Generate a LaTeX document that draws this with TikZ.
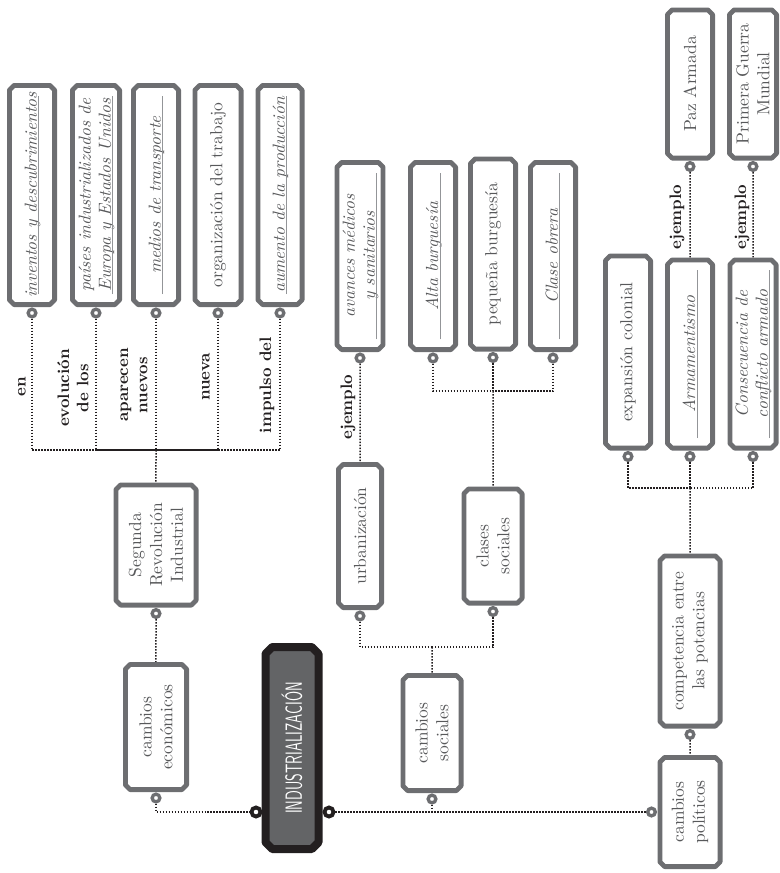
\documentclass[tikz,border=0pt]{standalone}
\usepackage{xcolor}
\usepackage{graphicx}
\usepackage{tikz}
\usetikzlibrary{shapes.misc,calc}

\definecolor{boxgray}{HTML}{6D6E71}
\definecolor{textgray}{HTML}{58595B}
\definecolor{linegray}{HTML}{939598}
\definecolor{rootblack}{HTML}{231F20}
\definecolor{rootgray}{HTML}{636466}

\newcommand{\wline}[1]{\\[-10.5pt]{\color{linegray}\rule{#1}{0.6pt}}}

\begin{document}
\begin{tikzpicture}[
  x=0.6pt, y=-0.6pt,
  concept/.style={chamfered rectangle, chamfered rectangle xsep=1.4pt, chamfered rectangle ysep=1.4pt, line join=round, draw=boxgray, line width=2.9pt, fill=white, rotate=90, inner sep=2pt, align=center, text=textgray, font=\fontsize{10.5}{12.5}\selectfont},
  ital/.style={concept, font=\fontsize{10.5}{12}\selectfont\itshape},
  root/.style={chamfered rectangle, chamfered rectangle xsep=2pt, chamfered rectangle ysep=2pt, line join=round, draw=rootblack, line width=4.8pt, fill=rootgray, rotate=90, text=white, font=\sffamily\fontsize{14}{16}\selectfont},
  knob/.style={circle, draw=boxgray, line width=2pt, fill=white, inner sep=0pt, minimum size=4.6pt},
  knobdark/.style={knob, draw=rootblack, line width=2.3pt, minimum size=5.4pt},
  link/.style={line width=0.9pt, dash pattern=on 0.9pt off 0.9pt, rootblack},
  tag/.style={rotate=90, align=center, text=rootblack, font=\fontsize{10}{11.5}\selectfont\bfseries}
]
  \useasboundingbox (0,0) rectangle (779,873);

  % Root
  \node[root, minimum width=121.2pt, minimum height=31.8pt] (ind) at (292,748) {\scalebox{0.6}[1]{INDUSTRIALIZACIÓN}};

  % Economic branch
  \node[concept, minimum width=75.1pt, minimum height=36.7pt] (ce) at (156,727) {cambios\\económicos};
  \node[concept, minimum width=72.1pt, minimum height=48.1pt] (seg) at (156,545) {Segunda\\Revolución\\Industrial};
  \node[ital, minimum width=131.5pt, minimum height=27.1pt] (inv) at (32,195) {inventos y descubrimientos\wline{119pt}};
  \node[ital, minimum width=131.5pt, minimum height=28.3pt] (pai) at (96,195) {países industrializados de\\Europa y Estados Unidos\wline{119pt}};
  \node[ital, minimum width=131.5pt, minimum height=27.1pt] (med) at (156,195) {medios de transporte\wline{119pt}};
  \node[concept, minimum width=131.5pt, minimum height=27.7pt] (org) at (218,195) {organización del trabajo};
  \node[ital, minimum width=131.5pt, minimum height=26.5pt] (aum) at (280,195) {aumento de la producción\wline{119pt}};

  % Social branch
  \node[concept, minimum width=69.1pt, minimum height=34.9pt] (cs) at (432,733) {cambios\\sociales};
  \node[concept, minimum width=85.9pt, minimum height=25.9pt] (urb) at (360,536) {urbanización};
  \node[concept, minimum width=68.5pt, minimum height=34.9pt] (cl) at (493,546) {clases\\sociales};
  \node[ital, minimum width=112.3pt, minimum height=25.9pt] (avm) at (360,256) {avances médicos\\y sanitarios\wline{100pt}};
  \node[ital, minimum width=112.3pt, minimum height=27.1pt] (alb) at (433,256) {Alta burguesía\wline{100pt}};
  \node[concept, minimum width=114.1pt, minimum height=27.1pt] (peq) at (493,254) {pequeña burguesía};
  \node[ital, minimum width=112.3pt, minimum height=27.1pt] (cob) at (553,256) {Clase obrera\wline{100pt}};

  % Political branch
  \node[concept, minimum width=65.5pt, minimum height=36.1pt] (cp) at (690,812) {cambios\\políticos};
  \node[concept, minimum width=102.1pt, minimum height=36.1pt] (comp) at (690,641) {competencia entre\\las potencias};
  \node[concept, minimum width=115.3pt, minimum height=27.1pt] (exp) at (628,352) {expansión colonial};
  \node[ital, minimum width=112.9pt, minimum height=27.1pt] (arm) at (690,354) {Armamentismo\wline{101pt}};
  \node[ital, minimum width=112.9pt, minimum height=27.1pt] (con) at (753,354) {Consecuencia de\\conflicto armado\wline{101pt}};
  \node[concept, minimum width=88.9pt, minimum height=27.1pt] (paz) at (690,84) {Paz Armada};
  \node[concept, minimum width=88.9pt, minimum height=28.3pt] (pgm) at (753,84) {Primera Guerra\\Mundial};

  % Knobs
  \foreach \n in {inv,pai,med,org,aum,seg,ce,cs,urb,cl,avm,alb,peq,cob,exp,arm,con,comp,paz,pgm}
    \node[knob] (k-\n) at ([yshift=-3.6pt]\n.west) {};
  \node[knob] (k-cp) at ([xshift=-3.6pt]cp.north) {};
  \node[knobdark] (k-indl) at (256,812) {};
  \node[knobdark] (k-indr) at (329,812) {};

  % Economic links
  \coordinate (b-eco) at (156,450);
  \foreach \n in {inv,pai,med,org,aum} \draw[link] (k-\n) |- (b-eco);
  \draw[link] (b-eco) -- (seg);
  \draw[link] (k-seg) -- (ce);
  \draw[link] (k-ce) |- (k-indl);

  % Social links
  \draw[link] (k-indr) -- (k-cp);
  \draw[link] (k-cs) -- (k-cs |- k-indr);
  \coordinate (b-soc) at (432,647);
  \draw[link] (b-soc) -- (cs);
  \draw[link] (k-urb) |- (b-soc);
  \draw[link] (k-cl) |- (b-soc);
  \draw[link] (k-avm) -- (urb);
  \coordinate (b-cla) at (493,391);
  \draw[link] (b-cla) -- (cl);
  \foreach \n in {alb,peq,cob} \draw[link] (k-\n) |- (b-cla);

  % Political links
  \coordinate (b-pol) at (690,488);
  \foreach \n in {exp,arm,con} \draw[link] (k-\n) |- (b-pol);
  \draw[link] (b-pol) -- (comp);
  \draw[link] (k-comp) -- (cp);
  \draw[link] (k-paz) -- (arm);
  \draw[link] (k-pgm) -- (con);

  % Link labels
  \node[tag] (t-en) at (22,387) {en};
  \node[tag] (t-evo) at (73,388) {evolución\\de los};
  \node[tag] (t-apa) at (134,385) {aparecen\\nuevos};
  \node[tag] (t-nue) at (206,377) {nueva};
  \node[tag] (t-imp) at (267,385) {impulso del};
  \node[tag] (t-ej1) at (348,407) {ejemplo};
  \node[tag] (t-ej2) at (677,217) {ejemplo};
  \node[tag] (t-ej3) at (742,217) {ejemplo};
\end{tikzpicture}
\end{document}
